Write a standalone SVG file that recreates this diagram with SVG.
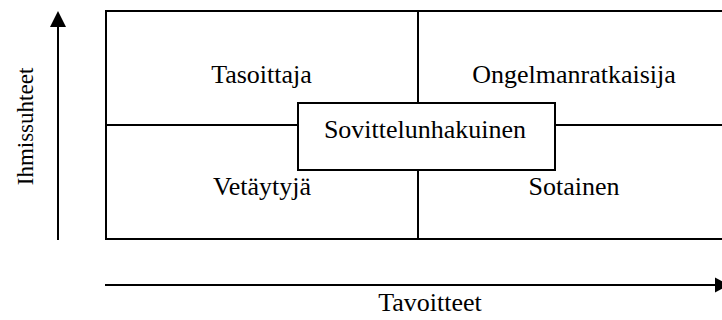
<svg xmlns="http://www.w3.org/2000/svg" width="722" height="320" viewBox="0 0 722 320">
  <style>
    .ln { stroke: #000; stroke-width: 2; fill: none; }
    .lbl { font-family: "Liberation Serif", "Times New Roman", "DejaVu Serif", serif; font-size: 26px; fill: #000; text-anchor: middle; }
  </style>
  <rect width="722" height="320" fill="#fff"/>

  <!-- quadrant grid -->
  <g id="grid">
    <rect class="ln" x="106" y="11" width="630" height="228"/>
    <line class="ln" x1="418" y1="11" x2="418" y2="239"/>
    <line class="ln" x1="106" y1="125" x2="736" y2="125"/>
  </g>

  <g id="tasoittaja"><text class="lbl" x="261.5" y="83">Tasoittaja</text></g>
  <g id="ongelmanratkaisija"><text class="lbl" x="574" y="83">Ongelmanratkaisija</text></g>
  <g id="vetaytyja"><text class="lbl" x="262" y="195">Vetäytyjä</text></g>
  <g id="sotainen"><text class="lbl" x="574" y="195">Sotainen</text></g>

  <g id="sovittelunhakuinen">
    <rect x="298" y="103" width="257" height="67" fill="#fff" stroke="#000" stroke-width="2"/>
    <text class="lbl" x="425" y="137.5">Sovittelunhakuinen</text>
  </g>

  <!-- axes -->
  <g id="axes">
    <line class="ln" x1="58" y1="240" x2="58" y2="26"/>
    <polygon points="50,27 66,27 58,11" fill="#000"/>
    <line class="ln" x1="105" y1="285" x2="716" y2="285"/>
    <polygon points="715,277.5 715,292.5 729,285" fill="#000"/>
  </g>

  <g id="axis-y-label"><text class="lbl" style="font-size:23px" transform="translate(33,126.5) rotate(-90)">Ihmissuhteet</text></g>
  <g id="axis-x-label"><text class="lbl" x="430" y="311">Tavoitteet</text></g>
</svg>
